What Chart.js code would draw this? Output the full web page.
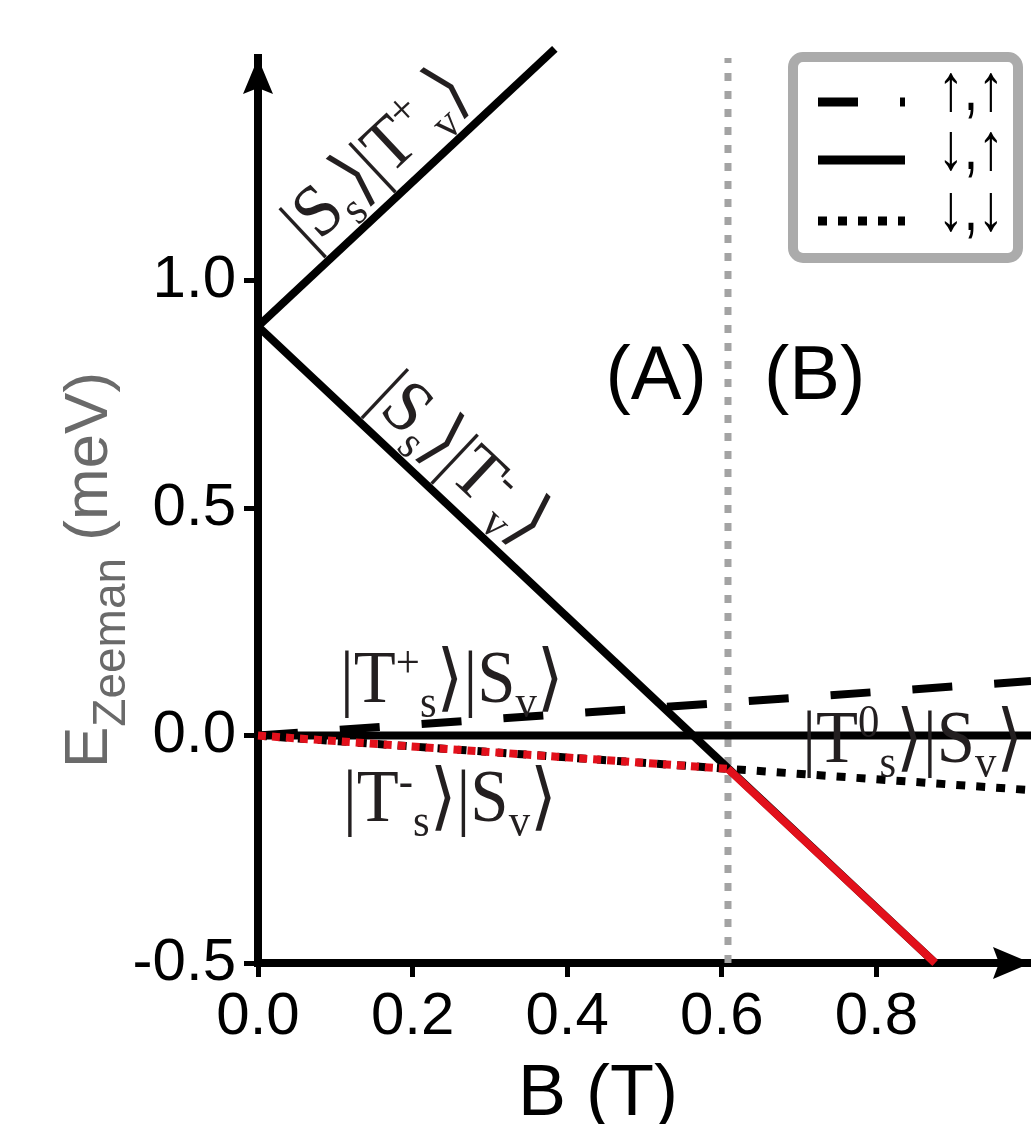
<!DOCTYPE html>
<html>
<head>
<meta charset="utf-8">
<script src="https://cdn.jsdelivr.net/npm/chart.js@4.4.1/dist/chart.umd.min.js"></script>
<style>
  html, body { margin: 0; padding: 0; background: #fff; }
  canvas { display: block; }
</style>
</head>
<body>
<canvas id="chart" width="1031" height="1124"></canvas>
<script>
// B (T) and E (meV)
const upperB = [0, 0.384];        // |S_s>|T+_v>
const upperE = [0.9, 1.51];
const lowerB = [0, 0.876];        // |S_s>|T-_v>
const lowerE = [0.9, -0.5];
const tPlusB = [0, 1.0];          // |T+_s>|S_v>
const tPlusE = [0, 0.12];
const tZeroB = [0, 1.0];          // |T0_s>|S_v>
const tZeroE = [0, 0];
const tMinusB = [0, 1.0];         // |T-_s>|S_v>
const tMinusE = [0, -0.12];
const groundDotB = [0, 0.608];    // ground state, region (A)
const groundDotE = [0, -0.073];
const groundSolidB = [0.608, 0.876]; // ground state, region (B)
const groundSolidE = [-0.073, -0.5];
const crossB = [0.608, 0.608];    // boundary between (A) and (B)
const crossE = [-0.5, 1.49];

const xTicks = [0, 0.2, 0.4, 0.6, 0.8];
const yTicks = [-0.5, 0, 0.5, 1.0];
const legendLabels = ['\u2191,\u2191', '\u2193,\u2191', '\u2193,\u2193'];

function pts(xs, ys) {
  return xs.map(function (x, i) { return { x: x, y: ys[i] }; });
}

const RED = '#e2101b';
const INK = '#231f20';
const SERIF = '"Liberation Serif", "DejaVu Serif", serif';
const SANS = '"Liberation Sans", Arial, sans-serif';

function line(data, color, width, dash) {
  return {
    data: data,
    borderColor: color,
    borderWidth: width,
    borderDash: dash || [],
    pointRadius: 0,
    fill: false,
    tension: 0,
    clip: false
  };
}

// rich text: [text, '' | 'sup' | 'sub']
function drawState(ctx, parts, x, y, angle) {
  ctx.save();
  ctx.translate(x, y);
  ctx.rotate(angle);
  ctx.scale(0.93, 1);
  ctx.fillStyle = INK;
  ctx.textBaseline = 'alphabetic';
  ctx.textAlign = 'left';
  let cx = 0;
  parts.forEach(function (p) {
    const small = p[1] !== '';
    ctx.font = (small ? 46 : 74) + 'px ' + SERIF;
    const dy = p[1] === 'sup' ? -25 : (p[1] === 'sub' ? 15 : 0);
    ctx.fillText(p[0], cx, dy);
    cx += ctx.measureText(p[0]).width;
  });
  ctx.restore();
}

const annotations = {
  id: 'annotations',
  afterDraw: function (chart) {
    const ctx = chart.ctx;
    const xs = chart.scales.x;
    const ys = chart.scales.y;
    const area = chart.chartArea;
    const px = function (v) { return xs.getPixelForValue(v); };
    const py = function (v) { return ys.getPixelForValue(v); };

    // axis arrows
    ctx.save();
    ctx.fillStyle = '#000';
    ctx.beginPath();
    ctx.moveTo(area.left, area.top);
    ctx.lineTo(area.left - 15, area.top + 36);
    ctx.lineTo(area.left, area.top + 30);
    ctx.lineTo(area.left + 15, area.top + 36);
    ctx.closePath();
    ctx.fill();
    ctx.beginPath();
    ctx.moveTo(area.right, area.bottom);
    ctx.lineTo(area.right - 38, area.bottom - 16);
    ctx.lineTo(area.right - 32, area.bottom);
    ctx.lineTo(area.right - 38, area.bottom + 16);
    ctx.closePath();
    ctx.fill();
    ctx.restore();

    // state labels
    const aUp = Math.atan2(py(upperE[1]) - py(upperE[0]), px(upperB[1]) - px(upperB[0]));
    const aDn = Math.atan2(py(lowerE[1]) - py(lowerE[0]), px(lowerB[1]) - px(lowerB[0]));
    drawState(ctx, [['|S', ''], ['s', 'sub'], ['\u27e9|T', ''], ['+', 'sup'], ['v', 'sub'], ['\u27e9', '']],
      px(0.067), py(1.067), aUp);
    drawState(ctx, [['|S', ''], ['s', 'sub'], ['\u27e9|T', ''], ['-', 'sup'], ['v', 'sub'], ['\u27e9', '']],
      px(0.142), py(0.734), aDn);
    drawState(ctx, [['|T', ''], ['+', 'sup'], ['s', 'sub'], ['\u27e9|S', ''], ['v', 'sub'], ['\u27e9', '']],
      px(0.106), py(0.074), 0);
    drawState(ctx, [['|T', ''], ['-', 'sup'], ['s', 'sub'], ['\u27e9|S', ''], ['v', 'sub'], ['\u27e9', '']],
      px(0.110), py(-0.187), 0);
    drawState(ctx, [['|T', ''], ['0', 'sup'], ['s', 'sub'], ['\u27e9|S', ''], ['v', 'sub'], ['\u27e9', '']],
      px(0.704), py(-0.058), 0);

    // region labels
    ctx.save();
    ctx.fillStyle = '#000';
    ctx.font = '76px ' + SANS;
    ctx.textAlign = 'center';
    ctx.textBaseline = 'alphabetic';
    ctx.fillText('(A)', px(0.515), py(0.74));
    ctx.fillText('(B)', px(0.72), py(0.74));

    // axis titles
    ctx.font = '72px ' + SANS;
    ctx.textAlign = 'left';
    ctx.fillText('B (T)', 518, 1115);

    ctx.translate(107, 570);
    ctx.rotate(-Math.PI / 2);
    ctx.fillStyle = '#6a6a6a';
    const ySeg = [['E', 62, 0], ['Zeeman', 46, 18], [' (meV)', 62, 0]];
    let total = 0;
    ySeg.forEach(function (s) { ctx.font = s[1] + 'px ' + SANS; total += ctx.measureText(s[0]).width; });
    let u = -total / 2;
    ySeg.forEach(function (s) {
      ctx.font = s[1] + 'px ' + SANS;
      ctx.fillText(s[0], u, s[2]);
      u += ctx.measureText(s[0]).width;
    });
    ctx.restore();

    // legend
    ctx.save();
    ctx.fillStyle = '#fff';
    ctx.strokeStyle = '#ababab';
    ctx.lineWidth = 10;
    ctx.beginPath();
    ctx.roundRect(793, 57, 225, 201, 10);
    ctx.fill();
    ctx.stroke();
    const samples = [
      { y: 102, dash: [40, 42] },
      { y: 160, dash: [] },
      { y: 221, dash: [9, 11] }
    ];
    const baselines = [110, 169, 230];
    samples.forEach(function (s, i) {
      ctx.strokeStyle = '#000';
      ctx.lineWidth = 9;
      ctx.setLineDash(s.dash);
      ctx.beginPath();
      ctx.moveTo(818, s.y);
      ctx.lineTo(905, s.y);
      ctx.stroke();
      ctx.setLineDash([]);
      ctx.save();
      ctx.translate(938, baselines[i]);
      ctx.scale(0.78, 1);
      ctx.fillStyle = '#000';
      ctx.font = '66px ' + SANS;
      ctx.textAlign = 'left';
      ctx.fillText(legendLabels[i], 0, 0);
      ctx.restore();
    });
    ctx.restore();
  }
};

new Chart(document.getElementById('chart'), {
  type: 'line',
  data: {
    datasets: [
      line(pts(groundDotB, groundDotE), RED, 8, [8, 6]),
      line(pts(groundSolidB, groundSolidE), RED, 8),
      line(pts(upperB, upperE), '#000', 8),
      line(pts(lowerB, lowerE), '#000', 8),
      line(pts(tPlusB, tPlusE), '#000', 8, [40, 42]),
      line(pts(tZeroB, tZeroE), '#000', 8),
      line(pts(tMinusB, tMinusE), '#000', 8, [9, 11]),
      line(pts(crossB, crossE), '#a3a3a3', 7, [8, 10])
    ]
  },
  options: {
    responsive: false,
    animation: false,
    layout: { padding: { left: 0, top: 58, right: 0, bottom: 0 } },
    plugins: { legend: { display: false }, tooltip: { enabled: false } },
    scales: {
      x: {
        type: 'linear',
        min: 0,
        max: 1,
        afterFit: function (s) { s.height = 161; },
        afterBuildTicks: function (s) { s.ticks = xTicks.map(function (v) { return { value: v }; }); },
        ticks: {
          autoSkip: false,
          maxRotation: 0,
          padding: 4,
          color: '#000',
          font: { family: SANS, size: 60 },
          callback: function (v) { return Number(v).toFixed(1); }
        },
        grid: { drawOnChartArea: false, color: '#000', tickLength: 14, tickWidth: 5 },
        border: { color: '#000', width: 8 }
      },
      y: {
        min: -0.5,
        max: 1.49,
        afterFit: function (s) { s.width = 258; },
        afterBuildTicks: function (s) { s.ticks = yTicks.map(function (v) { return { value: v }; }); },
        ticks: {
          padding: 8,
          color: '#000',
          font: { family: SANS, size: 60 },
          callback: function (v) { return Number(v).toFixed(1); }
        },
        grid: { drawOnChartArea: false, color: '#000', tickLength: 14, tickWidth: 5 },
        border: { color: '#000', width: 8 }
      }
    }
  },
  plugins: [annotations]
});
</script>
</body>
</html>
